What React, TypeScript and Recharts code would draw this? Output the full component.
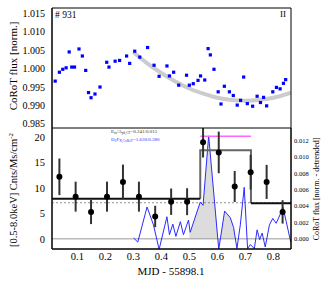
import React from "react";
import {
  ComposedChart,
  XAxis,
  YAxis,
  Scatter,
  Line,
  Area,
  ErrorBar,
  ReferenceLine,
} from "recharts";

const serif = "'Liberation Serif', 'DejaVu Serif', serif";

// shared time axis (MJD - 55898.1)
const xDomain = [0.0096, 0.863];
const xMajor = [0.1, 0.2, 0.3, 0.4, 0.5, 0.6, 0.7, 0.8];

// top panel: CoRoT light curve
const fluxTicks = [0.985, 0.99, 0.995, 1.0, 1.005, 1.01, 1.015];
const fluxTime = [
  0.021, 0.036, 0.048, 0.06, 0.071, 0.08, 0.09, 0.106, 0.118, 0.13, 0.14, 0.149,
  0.163, 0.181, 0.205, 0.213, 0.235, 0.251, 0.276, 0.287, 0.305, 0.323, 0.351,
  0.374, 0.392, 0.42, 0.429, 0.444, 0.462, 0.49, 0.5, 0.514, 0.531, 0.54, 0.555,
  0.567, 0.575, 0.588, 0.603, 0.613, 0.625, 0.643, 0.657, 0.671, 0.683, 0.694,
  0.707, 0.726, 0.742, 0.754, 0.765, 0.776, 0.798, 0.811, 0.824, 0.836, 0.844,
];
const fluxValue = [
  0.9966, 0.999, 0.9998, 1.0002, 1.0045, 1.0004, 1.0004, 1.0053, 1.0034, 0.9995,
  0.9935, 0.9921, 0.9931, 0.995, 1.0017, 1.0004, 1.002, 1.0022, 1.0034, 1.0014,
  1.0047, 1.0031, 1.0057, 1.0009, 0.9979, 1.0007, 0.998, 0.999, 0.9955, 0.9982,
  0.9955, 0.9959, 0.9968, 0.998, 0.9969, 1.0054, 1.0037, 0.9998, 0.9937, 0.9904,
  0.9952, 0.9937, 0.9927, 0.9901, 0.9914, 0.9977, 0.9905, 0.9898, 0.9925, 0.9908,
  0.9922, 0.9899, 0.9937, 0.9949, 0.9945, 0.996, 0.997,
];
const trendTime = [0.3, 0.35, 0.4, 0.45, 0.5, 0.55, 0.6, 0.65, 0.7, 0.75, 0.8, 0.863];
const trendValue = [
  1.0045, 1.0014, 0.9988, 0.9965, 0.9946, 0.9932, 0.9921, 0.9915, 0.9913, 0.9915,
  0.9921, 0.9935,
];

// bottom panel: X-ray count rate and detrended flux
const cntTicks = [0, 5, 10, 15, 20];
const detTicks = [0, 0.002, 0.004, 0.006, 0.008, 0.01, 0.012];
const binTime = [
  0.036, 0.094, 0.149, 0.206, 0.263, 0.32, 0.378, 0.435, 0.492, 0.549, 0.605,
  0.662, 0.719, 0.776, 0.833,
];
const binRate = [12.2, 8.3, 5.3, 8.3, 11.2, 8.3, 4.4, 7.3, 7.3, 19.0, 17.0, 10.3, 13.1, 11.2, 5.3];
const binErr = [3.6, 2.95, 2.4, 2.95, 3.4, 2.95, 2.1, 2.6, 2.65, 3.0, 4.1, 3.05, 3.4, 3.35, 2.3];
const blockEdges = [0.0096, 0.539, 0.72, 0.863];
const blockRates = [7.9, 17.4, 7.0];
const meanRate = 7.1;
const flareTime = [0.539, 0.72];
const flareRate = 20.2;
const detTime = [
  0.301, 0.316, 0.349, 0.372, 0.392, 0.42, 0.429, 0.441, 0.452, 0.468, 0.479,
  0.497, 0.503, 0.539, 0.549, 0.569, 0.605, 0.626, 0.646, 0.658, 0.67, 0.682,
  0.696, 0.708, 0.718, 0.732, 0.742, 0.751, 0.76, 0.771, 0.786, 0.798, 0.81,
  0.822, 0.834, 0.846, 0.862,
];
const detFlux = [
  0.0001, -0.0004, 0.0039, 0.0017, -0.0013, 0.0027, 0.0005, 0.0018, 0.0003,
  0.0021, 0.0005, 0.0023, 0.0008, 0.0045, 0.0041, 0.0126, -0.0013, 0.0034,
  0.0026, 0.0014, -0.0012, 0.0017, 0.0063, -0.0012, -0.0007, -0.0012, 0.0011,
  -0.0001, 0.0007, -0.001, 0.0017, 0.0025, 0.0019, 0.0028, 0.0039, 0.0021,
  -0.0004,
];
const shadeTime = [0.5, 0.503, 0.539, 0.549, 0.569, 0.605, 0.626, 0.646, 0.658, 0.665];
const shadeFlux = [0.0014, 0.0008, 0.0045, 0.0041, 0.0126, -0.0013, 0.0034, 0.0026, 0.0014, 0];

function range(a: number, b: number, step: number) {
  const out: number[] = [];
  for (let v = a; v <= b + 1e-12; v += step) out.push(+v.toFixed(6));
  return out;
}
const xMinor = range(0.01, 0.86, 0.01);
const fluxMinor = range(0.984, 1.016, 0.001);
const cntMinor = range(-2, 21, 1);
const detMinor = range(-0.001, 0.0135, 0.0005);

const fluxDomain = [0.9839, 1.0164];
const cntDomain = [-2, 21.8];
const detDomain = [-0.001244, 0.01356];

const pts = (xs: number[], ys: number[]) => xs.map((x, i) => ({ x, y: ys[i] }));
const fluxData = pts(fluxTime, fluxValue);
const trendData = pts(trendTime, trendValue);
const binData = binTime.map((x, i) => ({ x, y: binRate[i], err: binErr[i] }));
const detData = pts(detTime, detFlux);
const shadeData = pts(shadeTime, shadeFlux);
const lowBlocks = [
  { x: blockEdges[0], y: blockRates[0] },
  { x: blockEdges[1], y: blockRates[0] },
  { x: (blockEdges[1] + blockEdges[2]) / 2, y: null },
  { x: blockEdges[2], y: blockRates[2] },
  { x: blockEdges[3], y: blockRates[2] },
];
const flareBlock = [
  { x: blockEdges[1], y: blockRates[0] },
  { x: blockEdges[1], y: blockRates[1] },
  { x: blockEdges[2], y: blockRates[1] },
  { x: blockEdges[2], y: blockRates[2] },
];
const flareLine = flareTime.map((x) => ({ x, y: flareRate }));

const square = (p: any) => (
  <rect x={p.cx - 1.6} y={p.cy - 1.6} width={3.2} height={3.2} fill="#0000ff" />
);
const dot = (p: any) => <circle cx={p.cx} cy={p.cy} r={3} fill="#000" />;

const edge = { stroke: "#000", strokeWidth: 1 };

// inward tick marks on all four sides of a panel
function frame(
  id: string,
  left: { domain: number[]; major: number[]; minor: number[] },
  right: { domain: number[]; major: number[]; minor: number[] }
) {
  const common = { tick: false as const, interval: 0 as const, allowDataOverflow: true, mirror: true };
  return [
    <XAxis key={id + "tM"} xAxisId={id + "tM"} orientation="top" type="number" domain={xDomain} ticks={xMajor} tickSize={5} axisLine={edge} tickLine={edge} {...common} />,
    <XAxis key={id + "tm"} xAxisId={id + "tm"} orientation="top" type="number" domain={xDomain} ticks={xMinor} tickSize={2} axisLine={false} tickLine={edge} {...common} />,
    <XAxis key={id + "bM"} xAxisId={id + "bM"} orientation="bottom" type="number" domain={xDomain} ticks={xMajor} tickSize={5} axisLine={edge} tickLine={edge} {...common} />,
    <XAxis key={id + "bm"} xAxisId={id + "bm"} orientation="bottom" type="number" domain={xDomain} ticks={xMinor} tickSize={2} axisLine={false} tickLine={edge} {...common} />,
    <YAxis key={id + "lM"} yAxisId={id + "lM"} orientation="left" type="number" domain={left.domain} ticks={left.major} tickSize={5} axisLine={edge} tickLine={edge} {...common} />,
    <YAxis key={id + "lm"} yAxisId={id + "lm"} orientation="left" type="number" domain={left.domain} ticks={left.minor} tickSize={2.5} axisLine={false} tickLine={edge} {...common} />,
    <YAxis key={id + "rM"} yAxisId={id + "rM"} orientation="right" type="number" domain={right.domain} ticks={right.major} tickSize={5} axisLine={edge} tickLine={edge} {...common} />,
    <YAxis key={id + "rm"} yAxisId={id + "rm"} orientation="right" type="number" domain={right.domain} ticks={right.minor} tickSize={2.5} axisLine={false} tickLine={edge} {...common} />,
  ];
}

const fluxScale = { domain: fluxDomain, major: fluxTicks, minor: fluxMinor };
const cntScale = { domain: cntDomain, major: cntTicks, minor: cntMinor };
const detScale = { domain: detDomain, major: detTicks, minor: detMinor };

export default function App() {
  return (
    <div style={{ position: "absolute", left: 0, top: 0, width: 327, height: 283, background: "#fff", fontFamily: serif }}>
      <div style={{ position: "absolute", left: 0, top: 0 }}>
        <ComposedChart width={327} height={128} margin={{ top: 8, right: 36, bottom: 0, left: 12 }}>
          <XAxis xAxisId="x" dataKey="x" type="number" domain={xDomain} allowDataOverflow hide />
          <YAxis
            yAxisId="f"
            type="number"
            domain={fluxDomain}
            allowDataOverflow
            ticks={fluxTicks}
            interval={0}
            width={40}
            tickFormatter={(v: number) => v.toFixed(3)}
            tick={{ fontSize: 10, fill: "#000", fontFamily: serif }}
            tickLine={false}
            tickSize={0}
            tickMargin={7}
            axisLine={edge}
          />
          {frame("a", fluxScale, fluxScale)}
          <Line xAxisId="x" yAxisId="f" data={trendData} dataKey="y" type="monotone" stroke="#cccccc" strokeWidth={4} dot={false} isAnimationActive={false} />
          <Scatter xAxisId="x" yAxisId="f" data={fluxData} dataKey="y" shape={square} isAnimationActive={false} />
        </ComposedChart>
      </div>
      <div style={{ position: "absolute", left: 0, top: 128 }}>
        <ComposedChart width={327} height={155} margin={{ top: 0, right: 0, bottom: 0, left: 12 }}>
          <XAxis
            xAxisId="x"
            dataKey="x"
            type="number"
            domain={xDomain}
            allowDataOverflow
            ticks={xMajor}
            interval={0}
            height={34}
            tick={{ fontSize: 10.5, fill: "#000", fontFamily: serif }}
            tickLine={false}
            tickSize={0}
            tickMargin={4}
            axisLine={edge}
          />
          <YAxis
            yAxisId="c"
            type="number"
            domain={cntDomain}
            allowDataOverflow
            ticks={cntTicks}
            interval={0}
            width={40}
            tick={{ fontSize: 10.5, fill: "#000", fontFamily: serif }}
            tickLine={false}
            tickSize={0}
            tickMargin={7}
            axisLine={edge}
          />
          <YAxis
            yAxisId="d"
            orientation="right"
            type="number"
            domain={detDomain}
            allowDataOverflow
            ticks={detTicks}
            interval={0}
            width={36}
            tickFormatter={(v: number) => v.toFixed(3)}
            tick={{ fontSize: 6.5, fill: "#000", fontFamily: serif }}
            tickLine={false}
            tickSize={0}
            tickMargin={3}
            axisLine={edge}
          />
          {frame("b", cntScale, detScale)}
          <ReferenceLine xAxisId="x" yAxisId="c" y={0} stroke="#999" strokeWidth={1} />
          <ReferenceLine xAxisId="x" yAxisId="c" y={meanRate} stroke="#777" strokeDasharray="2 2" strokeWidth={0.8} />
          <Area xAxisId="x" yAxisId="d" data={shadeData} dataKey="y" type="linear" baseValue={0} fill="#dcdcdc" fillOpacity={1} stroke="none" isAnimationActive={false} />
          <Line xAxisId="x" yAxisId="d" data={detData} dataKey="y" type="linear" stroke="#2b2bff" strokeWidth={1} dot={false} isAnimationActive={false} />
          <Line xAxisId="x" yAxisId="c" data={flareBlock} dataKey="y" type="linear" stroke="#666" strokeWidth={2} dot={false} isAnimationActive={false} />
          <Line xAxisId="x" yAxisId="c" data={lowBlocks} dataKey="y" type="linear" stroke="#111" strokeWidth={2} dot={false} isAnimationActive={false} />
          <Line xAxisId="x" yAxisId="c" data={flareLine} dataKey="y" type="linear" stroke="#ff66ff" strokeWidth={1.5} dot={false} isAnimationActive={false} />
          <Scatter xAxisId="x" yAxisId="c" data={binData} dataKey="y" shape={dot} isAnimationActive={false}>
            <ErrorBar dataKey="err" direction="y" width={0} stroke="#333" strokeWidth={2} isAnimationActive={false} />
          </Scatter>
        </ComposedChart>
      </div>
      <svg width={327} height={283} style={{ position: "absolute", left: 0, top: 0, pointerEvents: "none" }} fontFamily={serif}>
        <text x={55} y={18} fontSize={9.5}># 931</text>
        <text x={286} y={17} fontSize={9} textAnchor="end">II</text>
        <text transform="translate(17,66) rotate(-90)" fontSize={11} textAnchor="middle">CoRoT flux [norm.]</text>
        <text transform="translate(17,190) rotate(-90)" fontSize={10.5} textAnchor="middle">
          [0.5-8.0keV] Cnts/Ms/cm<tspan dy={-4} fontSize={7}>-2</tspan>
        </text>
        <text transform="translate(319,189) rotate(-90)" fontSize={8} textAnchor="middle">CoRoT flux [norm. - detrended]</text>
        <text x={171} y={275} fontSize={11} textAnchor="middle">MJD - 55898.1</text>
        <text x={111} y={133} fontSize={5} fill="#333">
          E<tspan dy={1} fontSize={3.5}>in</tspan><tspan dy={-1}>/A</tspan>
          <tspan dy={1} fontSize={3.5}>ph,CF</tspan><tspan dy={-1}>=0.241/0.015</tspan>
        </text>
        <text x={111} y={140.5} fontSize={5} fill="#3333ff">
          D<tspan dy={1} fontSize={3.5}>2</tspan><tspan dy={-1}>F</tspan>
          <tspan dy={1} fontSize={3.5}>X,CoRoT</tspan><tspan dy={-1}>=1.630/0.380</tspan>
        </text>
      </svg>
    </div>
  );
}
